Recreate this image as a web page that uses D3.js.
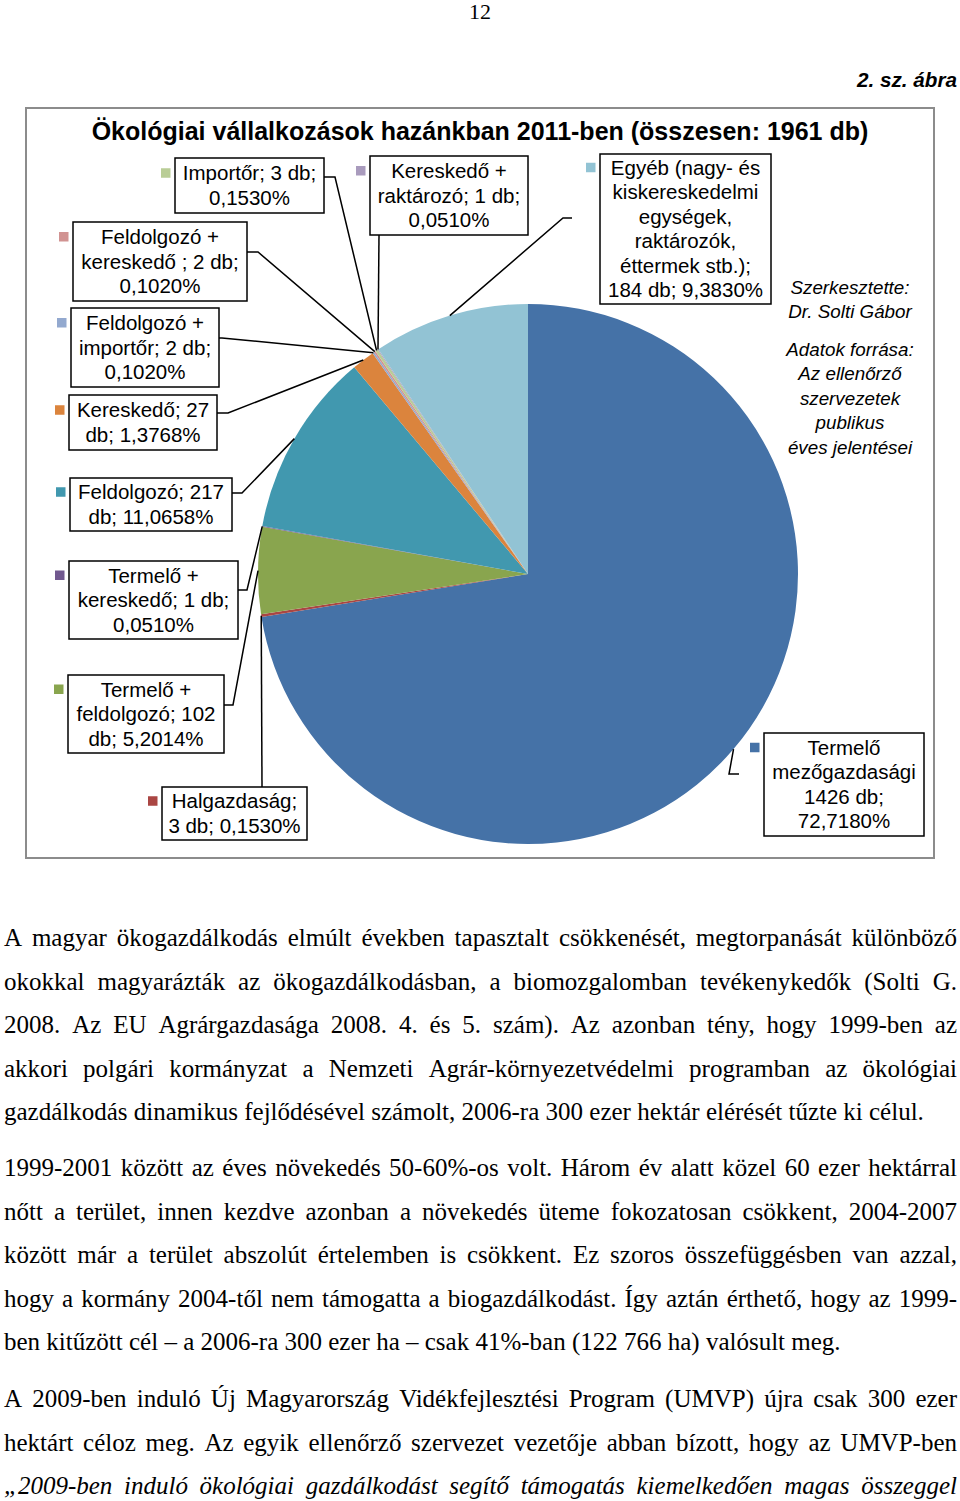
<!DOCTYPE html>
<html>
<head>
<meta charset="utf-8">
<script src="https://cdn.jsdelivr.net/npm/d3@7"></script>
<style>
  body { margin: 0; background: #fff; }
  svg { display: block; }
</style>
</head>
<body>
<svg id="page" width="960" height="1501"></svg>
<script>
// pie data, in drawing order (clockwise from 12 o'clock)
const categories = [
  "Termelő mezőgazdasági",
  "Halgazdaság",
  "Termelő + feldolgozó",
  "Termelő + kereskedő",
  "Feldolgozó",
  "Kereskedő",
  "Feldolgozó + importőr",
  "Feldolgozó + kereskedő ",
  "Importőr",
  "Kereskedő + raktározó",
  "Egyéb (nagy- és kiskereskedelmi egységek, raktározók, éttermek stb.)"
];
const counts = [1426, 3, 102, 1, 217, 27, 2, 2, 3, 1, 184];
const percents = ["72,7180%", "0,1530%", "5,2014%", "0,0510%", "11,0658%", "1,3768%",
                  "0,1020%", "0,1020%", "0,1530%", "0,0510%", "9,3830%"];
const colors = ["#4572A7", "#AA4643", "#89A54E", "#71588F", "#4198AF", "#DB843D",
                "#93A9CF", "#D19392", "#B9CD96", "#A99BBD", "#92C3D4"];
const total = 1961;

const pageNumber = "12";
const figureNo = "2. sz. ábra";
const chartTitle = `Ökológiai vállalkozások hazánkban 2011-ben (összesen: ${total} db)`;
const notes = [
  ["Szerkesztette:", "Dr. Solti Gábor"],
  ["Adatok forrása:", "Az ellenőrző", "szervezetek", "publikus", "éves jelentései"]
];

const paragraphs = [
  [
    "A magyar ökogazdálkodás elmúlt években tapasztalt csökkenését, megtorpanását különböző",
    "okokkal magyarázták az ökogazdálkodásban, a biomozgalomban tevékenykedők (Solti G.",
    "2008. Az EU Agrárgazdasága 2008. 4. és 5. szám). Az azonban tény, hogy 1999-ben az",
    "akkori polgári kormányzat a Nemzeti Agrár-környezetvédelmi programban az ökológiai",
    "gazdálkodás dinamikus fejlődésével számolt, 2006-ra 300 ezer hektár elérését tűzte ki célul."
  ],
  [
    "1999-2001 között az éves növekedés 50-60%-os volt. Három év alatt közel 60 ezer hektárral",
    "nőtt a terület, innen kezdve azonban a növekedés üteme fokozatosan csökkent, 2004-2007",
    "között már a terület abszolút értelemben is csökkent. Ez szoros összefüggésben van azzal,",
    "hogy a kormány 2004-től nem támogatta a biogazdálkodást. Így aztán érthető, hogy az 1999-",
    "ben kitűzött cél – a 2006-ra 300 ezer ha – csak 41%-ban (122 766 ha) valósult meg."
  ],
  [
    "A 2009-ben induló Új Magyarország Vidékfejlesztési Program (UMVP) újra csak 300 ezer",
    "hektárt céloz meg. Az egyik ellenőrző szervezet vezetője abban bízott, hogy az UMVP-ben",
    "„2009-ben induló ökológiai gazdálkodást segítő támogatás kiemelkedően magas összeggel"
  ]
];

// label boxes: position, words per line, leader attach point and elbow
const labelLayout = [
  { x: 764, y: 733, w: 160, h: 103, breaks: [1, 1, 2, 1], attach: [739, 774], elbow: [729, 774] },
  { x: 162, y: 787, w: 145, h: 53, breaks: [1, 3], attach: [262, 787], elbow: [262, 787] },
  { x: 68, y: 675, w: 156, h: 78, breaks: [2, 2, 2], attach: [224, 705], elbow: [233, 705] },
  { x: 69, y: 561, w: 169, h: 78, breaks: [2, 3, 1], attach: [238, 590], elbow: [247, 590] },
  { x: 70, y: 478, w: 162, h: 53, breaks: [2, 2], attach: [232, 493], elbow: [242, 493] },
  { x: 69, y: 395, w: 148, h: 55, breaks: [2, 2], attach: [217, 413], elbow: [228, 413] },
  { x: 71, y: 308, w: 148, h: 79, breaks: [2, 3, 1], attach: [219, 338], elbow: [222, 338] },
  { x: 73, y: 222, w: 174, h: 79, breaks: [2, 4, 1], attach: [247, 252], elbow: [258, 252] },
  { x: 175, y: 158, w: 149, h: 55, breaks: [3, 1], attach: [324, 177], elbow: [335, 177] },
  { x: 370, y: 156, w: 158, h: 79, breaks: [2, 3, 1], attach: [379, 235], elbow: [379, 235] },
  { x: 600, y: 154, w: 171, h: 150, breaks: [3, 1, 1, 1, 2, 3], attach: [572, 218], elbow: [563, 218] }
];

const svg = d3.select("#page");
const sans = "'Liberation Sans', Arial, sans-serif";
const serif = "'Liberation Serif', 'Times New Roman', serif";

// page header
svg.append("text")
  .attr("x", 480).attr("y", 19)
  .attr("text-anchor", "middle")
  .attr("font-family", serif).attr("font-size", 22)
  .text(pageNumber);

svg.append("text")
  .attr("x", 957).attr("y", 87)
  .attr("text-anchor", "end")
  .attr("font-family", "'Liberation Sans Narrow', " + sans)
  .attr("font-size", 21).attr("font-weight", "bold").attr("font-style", "italic")
  .attr("textLength", 100).attr("lengthAdjust", "spacingAndGlyphs")
  .text(figureNo);

// chart frame and title
svg.append("rect")
  .attr("x", 26).attr("y", 108).attr("width", 908).attr("height", 750)
  .attr("fill", "#fff").attr("stroke", "#8c8c8c").attr("stroke-width", 2);

svg.append("text")
  .attr("x", 480).attr("y", 140)
  .attr("text-anchor", "middle")
  .attr("font-family", sans).attr("font-size", 25).attr("font-weight", "bold")
  .text(chartTitle);

// pie
const cx = 528, cy = 574, radius = 270;
const pieData = d3.pie().sort(null).value(d => d)(counts);
const arc = d3.arc().innerRadius(0).outerRadius(radius);
const rim = d3.arc().innerRadius(radius).outerRadius(radius);

const pieG = svg.append("g").attr("transform", `translate(${cx},${cy})`);
pieG.selectAll("path.slice")
  .data(pieData)
  .enter().append("path")
  .attr("class", "slice")
  .attr("d", arc)
  .attr("fill", (d, i) => colors[i]);

// leader lines
const leaders = svg.append("g")
  .attr("fill", "none").attr("stroke", "#000").attr("stroke-width", 1.5);
pieData.forEach((d, i) => {
  const L = labelLayout[i];
  const c = rim.centroid(d);
  const pts = [[cx + c[0], cy + c[1]], L.elbow, L.attach];
  leaders.append("path").attr("d", d3.line()(pts));
});

// label boxes
const lineH = 24.5, labelSize = 20.5;
pieData.forEach((d, i) => {
  const L = labelLayout[i];
  const sep = i === 0 ? " " : "; ";
  const words = `${categories[i]}${sep}${counts[i]} db; ${percents[i]}`.split(" ");
  const lines = [];
  let k = 0;
  L.breaks.forEach(n => { lines.push(words.slice(k, k + n).join(" ")); k += n; });

  const g = svg.append("g");
  g.append("rect")
    .attr("x", L.x).attr("y", L.y).attr("width", L.w).attr("height", L.h)
    .attr("fill", "#fff").attr("stroke", "#000").attr("stroke-width", 1.5);

  const top = L.y + (L.h - lines.length * lineH) / 2;
  lines.forEach((t, j) => {
    g.append("text")
      .attr("x", L.x + L.w / 2)
      .attr("y", top + lineH * (j + 0.5) + labelSize * 0.35)
      .attr("text-anchor", "middle")
      .attr("font-family", sans).attr("font-size", labelSize)
      .text(t);
  });

  g.append("rect")
    .attr("x", L.x - 14).attr("y", top + lineH / 2 - 5)
    .attr("width", 9.5).attr("height", 9.5)
    .attr("fill", colors[i]);
});

// side notes
const noteTops = [287, 349];
notes.forEach((block, b) => {
  block.forEach((t, j) => {
    svg.append("text")
      .attr("x", 850).attr("y", noteTops[b] + j * 24.5 + 6.5)
      .attr("text-anchor", "middle")
      .attr("font-family", sans).attr("font-size", 18.8).attr("font-style", "italic")
      .text(t);
  });
});

// body text, justified line by line
const bodySize = 25, left = 4, right = 957, lead = 43.6;
const paraStarts = [946, 1176, 1407];
const measure = svg.append("text").attr("font-family", serif).attr("font-size", bodySize);

paragraphs.forEach((lines, p) => {
  lines.forEach((line, j) => {
    const italic = p === 2 && j === lines.length - 1;
    const justify = !(j === lines.length - 1 && p < 2);
    const words = line.split(" ");
    measure.attr("font-style", italic ? "italic" : "normal");
    const widths = words.map(w => { measure.text(w); return measure.node().getComputedTextLength(); });
    measure.text("a b");
    const ab = measure.node().getComputedTextLength();
    measure.text("ab");
    const space = ab - measure.node().getComputedTextLength();
    const sum = d3.sum(widths);
    let gap = space, scale = 1;
    if (justify && words.length > 1) {
      gap = (right - left - sum) / (words.length - 1);
      if (gap < space * 0.6) {
        gap = space * 0.6;
        scale = (right - left) / (sum + gap * (words.length - 1));
      }
    } else {
      const natural = sum + gap * (words.length - 1);
      if (natural > right - left) scale = (right - left) / natural;
    }
    const y = paraStarts[p] + j * lead;
    const g = svg.append("g")
      .attr("transform", `translate(${left},${y}) scale(${scale},1)`)
      .attr("font-family", serif).attr("font-size", bodySize)
      .attr("font-style", italic ? "italic" : "normal");
    let x = 0;
    words.forEach((w, n) => {
      g.append("text").attr("x", x).attr("y", 0).text(w);
      x += widths[n] + gap;
    });
  });
});
measure.remove();
</script>
</body>
</html>
